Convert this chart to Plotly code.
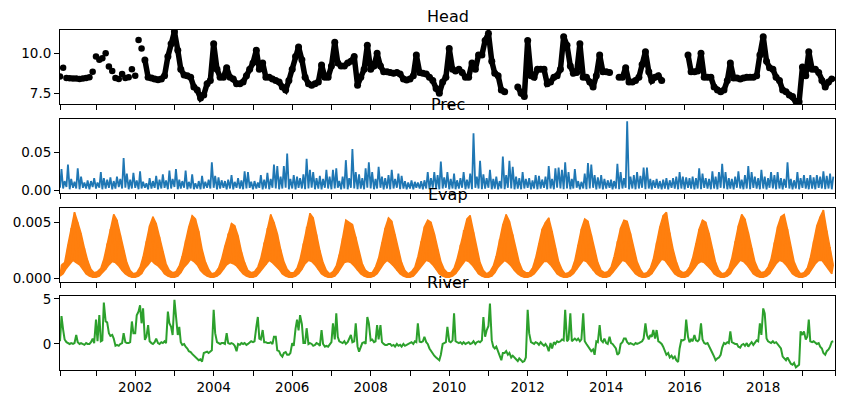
import pandas as pd
import plotly.graph_objects as go

nan = float("nan")

# ---------------- data ----------------
MONTHS = pd.date_range("2000-02-01", "2019-10-01", freq="MS")        # Head
HALF_MONTHS = pd.date_range("2000-02-01", "2019-10-15", freq="SMS")  # Prec, Evap, River

HEAD = [
    8.55, 9.1, 8.45, 8.44, 8.42, 8.43, 8.4, 8.42, 8.45, 8.5, 8.85,          # 2000 Feb-Dec
    9.8, 9.6, 9.7, 10.0, 9.17, 8.9, 8.45, 8.4, 8.7, 8.45, 8.5, 9.0,         # 2001
    8.6, 10.83, 10.3, 9.58, 8.5, 8.45, 8.4, 8.35, 8.4, 8.6, 9.8, 10.6,      # 2002
    11.35, 10.2, 9.0, 8.64, 8.6, 8.5, 7.9, 7.7, 7.2, 7.4, 8.1, 8.3,         # 2003
    10.6, 9.0, 8.5, 8.5, 9.1, 8.5, 8.4, 8.1, 8.1, 8.2, 8.6, 9.0,            # 2004
    9.4, 10.2, 9.0, 9.4, 8.5, 8.5, 8.4, 8.3, 8.2, 7.9, 7.7, 8.3,            # 2005
    9.0, 9.8, 10.4, 9.6, 8.5, 8.1, 8.0, 8.1, 8.2, 9.27, 8.5, 8.5,           # 2006
    9.2, 10.7, 9.4, 9.2, 9.2, 9.4, 9.5, 9.8, 8.0, 8.5, 9.0, 10.5,           # 2007
    9.0, 9.2, 10.0, 9.2, 8.85, 8.85, 8.8, 8.75, 8.8, 8.7, 8.4, 8.33,        # 2008
    8.4, 8.6, 9.9, 8.8, 8.75, 8.7, 8.5, 8.3, 7.8, 7.5, 8.2, 8.5,            # 2009
    10.3, 9.0, 8.9, 9.0, 8.8, 8.5, 8.5, 9.4, 9.0, 9.9, 9.9, 10.8,           # 2010
    11.25, 9.5, 8.75, 8.6, 7.7, 7.6, nan, nan, nan, 7.9, 7.5, 7.3,          # 2011
    10.8, 8.6, 8.5, 9.0, 9.0, 9.0, 8.1, 8.2, 8.5, 8.6, 9.0, 11.04,          # 2012
    10.5, 9.2, 8.75, 8.8, 10.6, 8.5, 8.5, 8.2, 7.9, 8.6, 9.9, 8.85,         # 2013
    8.85, 8.8, nan, nan, 8.5, 8.5, 9.1, 8.2, 8.2, 8.3, 8.5, 9.3,            # 2014
    10.1, 8.85, 8.3, 8.5, 8.6, 8.3, nan, nan, nan, nan, nan, nan,           # 2015
    nan, 9.9, 8.85, 8.85, 8.9, 10.0, 8.5, 8.5, 8.5, 7.9, 7.7, 7.6,          # 2016
    7.7, 8.3, 9.4, 8.45, 8.45, 8.4, 8.45, 8.5, 8.5, 8.5, 8.6, 9.9,          # 2017
    11.04, 9.5, 9.1, 9.0, 8.5, 8.3, 7.7, 7.6, 7.4, 7.3, 7.0, 6.97,         # 2018
    9.15, 8.6, 10.1, 9.0, 9.0, 8.8, 8.3, 7.9, 8.2, 8.4,                    # 2019 Jan-Oct
]
HEAD_DENSE_FROM = "2002-04-01"   # before this the record is sparse (single dots)

RIVER = [
    0.3, 3.1, 1.6, 0.5, 0.2, 0.1, 0.0, 0.1, 0.0, 0.1, 1.0, 0.2,
    0.0, 0.1, 0.0, -0.1, 0.1, 0.0, 0.0, 0.2, 0.6, 0.1,                       # 2000 Feb-Dec
    2.7, 0.3, 3.2, 0.3, 0.4, 4.6, 2.5, 2.4, 1.2, 0.9, 1.0, 0.6,
    -0.2, -0.1, -0.2, 0.0, 0.1, 1.2, 0.2, 0.1, 0.1, 0.2, 2.5, 1.2,          # 2001
    1.2, 3.2, 3.6, 4.3, 2.3, 3.95, 0.45, 0.8, 2.1, 0.3, 0.1, 0.0,
    0.2, 0.6, 0.1, 0.0, 0.2, 0.1, 0.3, 0.1, 3.6, 2.3, 1.9, 1.0,             # 2002
    4.9, 3.0, 1.0, 1.9, 0.2, -0.1, 0.0, -0.3, -0.5, -0.8, -0.9, -1.1,
    -1.3, -1.4, -1.6, -1.8, -1.7, -1.96, -1.0, -0.9, -0.85, -1.0, -0.8, -0.7,  # 2003
    3.8, 1.2, 0.2, 0.1, 0.0, 0.1, 0.1, 0.0, 1.2, 0.1, 0.0, 0.1,
    0.0, -0.2, -0.8, 0.0, -0.1, 0.1, 0.0, 0.1, -0.1, 0.0, 0.2, 0.3,         # 2004
    0.2, 0.3, 1.9, 3.0, 0.6, 0.5, 1.55, 0.2, 0.2, 0.1, 0.1, 0.2,
    0.0, 0.8, 0.8, -0.7, -0.8, -1.2, -1.4, -1.0, -0.9, -1.2, -1.2, -1.0,    # 2005
    0.1, -0.2, 1.7, 2.7, 1.5, 3.2, 2.2, 0.1, 0.1, 1.75, 0.0, 0.1,
    0.0, -0.2, -0.1, 0.1, 0.0, -0.2, 1.55, 0.0, -0.3, -0.2, -0.3, 0.0,      # 2006
    0.2, 2.3, 0.5, 3.4, 0.8, 0.3, 0.2, 0.1, 0.3, 0.0, 0.2, 0.5,
    1.0, 0.2, 0.3, 2.3, -0.3, -0.85, -0.3, 0.1, 0.2, 0.0, 3.0, 2.3,         # 2007
    0.4, 0.5, 0.2, 0.3, 2.1, 0.5, 2.1, 0.2, 0.0, -0.1, -0.1, 0.0,
    0.0, -0.2, -0.1, -0.3, 0.0, -0.2, -0.1, -0.3, 0.0, -0.2, -0.1, 0.0,     # 2008
    0.1, 0.2, 0.0, 0.3, 0.2, 2.3, 0.25, 0.2, 0.3, 0.8, 0.2, 0.0,
    -0.5, -0.8, -1.0, -1.3, -1.5, -1.7, -1.8, -1.2, 0.0, 0.1, 0.2, 1.9,     # 2009
    0.3, 0.2, 0.4, 3.4, 0.3, 0.2, 0.1, 0.2, 0.0, 0.2, 0.0, 0.1,
    0.2, 0.0, 0.1, 0.3, 0.0, 0.2, 0.3, 0.2, 0.4, 3.0, 0.8, 1.5,             # 2010
    2.0, 4.5, 0.4, -0.3, -0.5, -0.3, -0.8, -1.2, -1.8, -1.0, -1.0, -0.8,
    -1.2, -1.0, -1.5, -1.3, -1.6, -1.7, -1.9, -1.6, -1.8, -2.0, -1.9, -1.5, # 2011
    3.8, 1.2, 0.2, 0.1, 0.0, 0.2, 0.1, -0.1, 0.2, 0.0, -0.2, 0.0,
    -0.3, -0.8, 0.1, -0.5, 0.2, 0.0, 0.3, 0.2, 0.3, 0.5, 0.4, 3.8,          # 2012
    0.3, 0.5, 3.4, 0.3, 0.5, 0.6, 0.4, 0.6, 0.3, 0.5, 3.4, 0.3,
    0.0, -0.3, -0.5, -0.8, -0.6, -1.2, 0.3, 0.2, 2.1, 0.4, 0.2, 0.6,        # 2013
    0.1, 0.0, 0.8, 0.1, 0.0, -0.2, -0.5, -1.2, -1.0, 0.0, 0.2, 0.6,
    0.6, 0.2, 0.0, 0.1, 0.0, -0.1, 0.1, 0.0, 0.1, 0.2, 0.3, 0.6,            # 2014
    2.3, 1.0, 0.5, 1.0, 0.8, 1.55, 0.6, 1.55, 0.3, 0.2, 0.0, -0.3,
    -0.7, -1.2, -1.0, -1.5, -1.3, -1.6, -1.4, -1.8, -2.0, -0.5, 0.45, 0.4,  # 2015
    0.5, 2.7, 0.8, 0.2, 0.5, 0.3, 1.0, 0.4, 0.3, 0.5, 2.3, 0.5,
    0.1, 0.0, 0.1, -0.3, -0.6, -1.0, -1.4, -1.8, -1.6, -1.5, -1.2, -0.4,    # 2016
    0.1, 0.0, 0.2, 0.1, 1.4, 0.2, 0.1, 0.0, 0.0, -0.3, -0.4, -0.1,
    0.0, -0.2, 0.1, -0.3, 0.0, 0.2, -0.1, 0.2, 0.4, 0.3, 2.3, 1.0,          # 2017
    3.95, 3.4, 0.6, 0.3, 0.2, 0.1, 0.3, 0.1, 0.2, 0.0, -0.3, -0.5,
    -1.4, -1.6, -1.8, -1.5, -2.0, -2.2, -2.3, -2.1, -2.6, -2.4, -2.3, 1.4,  # 2018
    1.0, 1.4, 0.5, 0.8, 2.7, 0.3, 0.2, 0.3, 0.1, 0.0, 0.1, -0.3,
    -0.5, -1.0, -1.2, -0.8, -0.6, -0.3, 0.25, 0.3,                          # 2019 Jan-Oct
]

PREC = [
    .003, .028, .002, .012, .004, .034, .001, .015, .003, .011, .002, .029,
    .001, .018, .003, .010, .002, .013, .001, .012, .004, .016,             # 2000 Feb-Dec
    .002, .010, .003, .024, .001, .016, .002, .014, .003, .017, .001, .012,
    .002, .018, .004, .015, .002, .043, .003, .022, .001, .014, .002, .023, # 2001
    .003, .013, .001, .025, .002, .011, .003, .009, .001, .016, .002, .012,
    .003, .019, .001, .014, .002, .021, .003, .013, .001, .026, .002, .015, # 2002
    .004, .028, .001, .014, .002, .012, .003, .026, .001, .011, .002, .021,
    .001, .009, .002, .012, .001, .019, .002, .011, .003, .014, .002, .037, # 2003
    .003, .019, .001, .017, .002, .013, .003, .012, .001, .014, .002, .020,
    .001, .011, .003, .016, .002, .013, .001, .025, .002, .024, .003, .011, # 2004
    .001, .012, .002, .010, .003, .020, .001, .014, .002, .023, .001, .015,
    .003, .034, .002, .032, .001, .018, .002, .032, .003, .049, .001, .015, # 2005
    .002, .020, .001, .018, .003, .016, .002, .021, .001, .042, .002, .027,
    .003, .024, .001, .016, .002, .019, .001, .015, .003, .027, .002, .018, # 2006
    .001, .027, .002, .029, .003, .012, .001, .018, .002, .040, .001, .016,
    .003, .055, .002, .024, .001, .021, .002, .016, .001, .029, .003, .037, # 2007
    .002, .024, .001, .015, .002, .031, .003, .018, .001, .016, .002, .020,
    .001, .027, .002, .015, .003, .022, .001, .019, .002, .012, .001, .010, # 2008
    .002, .013, .001, .011, .003, .010, .002, .012, .001, .013, .002, .024,
    .001, .016, .003, .024, .002, .020, .001, .038, .002, .017, .003, .024, # 2009
    .001, .015, .002, .022, .001, .013, .002, .016, .003, .024, .001, .014,
    .002, .022, .001, .076, .003, .018, .002, .039, .001, .021, .002, .016, # 2010
    .003, .027, .001, .015, .002, .018, .001, .012, .002, .045, .001, .020,
    .003, .039, .002, .031, .001, .018, .002, .016, .001, .024, .002, .015, # 2011
    .003, .016, .001, .013, .002, .020, .001, .019, .002, .014, .003, .018,
    .001, .032, .002, .015, .001, .029, .003, .030, .002, .027, .001, .037, # 2012
    .002, .024, .001, .015, .002, .028, .003, .012, .001, .011, .002, .022,
    .001, .036, .002, .034, .003, .020, .001, .017, .002, .020, .001, .015, # 2013
    .002, .013, .003, .014, .001, .012, .002, .035, .001, .024, .002, .016,
    .003, .092, .001, .018, .002, .020, .001, .024, .002, .019, .003, .030, # 2014
    .001, .030, .002, .015, .001, .013, .003, .015, .002, .012, .001, .014,
    .002, .016, .001, .013, .003, .016, .002, .018, .001, .024, .002, .018, # 2015
    .001, .017, .003, .016, .002, .018, .001, .016, .002, .029, .001, .022,
    .003, .016, .002, .015, .001, .025, .002, .018, .001, .024, .003, .035, # 2016
    .002, .024, .001, .016, .002, .015, .001, .018, .003, .025, .002, .014,
    .001, .020, .002, .032, .001, .024, .003, .018, .002, .016, .001, .027, # 2017
    .002, .018, .001, .016, .003, .024, .002, .020, .001, .024, .002, .016,
    .001, .015, .003, .037, .002, .015, .001, .013, .002, .024, .001, .016, # 2018
    .003, .020, .002, .016, .001, .020, .002, .017, .001, .020, .003, .018,
    .002, .025, .001, .019, .002, .022, .001, .018,                         # 2019 Jan-Oct
]

# pairs per month: (daily low around the 1st, daily high around the 15th)
EVAP = [
    .0002, .0012, .0004, .0014, .0009, .0030, .0013, .0045, .0016, .0059, .0014, .0050,
    .0012, .0040, .0008, .0027, .0004, .0016, .0002, .0008, .0001, .0005,                # 2000 Feb-Dec
    .0001, .0006, .0002, .0009, .0005, .0017, .0008, .0031, .0012, .0044, .0015, .0057,
    .0014, .0052, .0011, .0039, .0007, .0025, .0004, .0014, .0002, .0007, .0001, .0004,  # 2001
    .0001, .0005, .0002, .0010, .0004, .0019, .0009, .0033, .0012, .0047, .0016, .0055,
    .0013, .0049, .0011, .0037, .0008, .0024, .0004, .0013, .0002, .0007, .0001, .0005,  # 2002
    .0001, .0006, .0002, .0011, .0005, .0020, .0010, .0034, .0013, .0046, .0017, .0056,
    .0015, .0053, .0012, .0042, .0007, .0026, .0004, .0015, .0002, .0008, .0001, .0004,  # 2003
    .0001, .0005, .0002, .0009, .0004, .0017, .0008, .0029, .0012, .0040, .0014, .0049,
    .0013, .0047, .0011, .0038, .0007, .0024, .0004, .0014, .0002, .0007, .0001, .0005,  # 2004
    .0001, .0006, .0002, .0010, .0005, .0018, .0009, .0032, .0012, .0045, .0016, .0057,
    .0014, .0050, .0011, .0040, .0008, .0026, .0004, .0015, .0002, .0008, .0001, .0005,  # 2005
    .0001, .0005, .0002, .0009, .0004, .0017, .0008, .0031, .0013, .0046, .0016, .0058,
    .0015, .0054, .0012, .0039, .0008, .0025, .0004, .0014, .0002, .0007, .0001, .0004,  # 2006
    .0001, .0006, .0002, .0011, .0005, .0021, .0010, .0036, .0014, .0052, .0015, .0050,
    .0014, .0048, .0011, .0037, .0007, .0024, .0004, .0013, .0002, .0007, .0001, .0005,  # 2007
    .0001, .0005, .0002, .0010, .0004, .0018, .0009, .0032, .0013, .0045, .0016, .0054,
    .0014, .0051, .0011, .0039, .0007, .0025, .0004, .0014, .0002, .0007, .0001, .0004,  # 2008
    .0001, .0006, .0002, .0010, .0005, .0019, .0009, .0033, .0013, .0046, .0016, .0052,
    .0015, .0050, .0012, .0040, .0008, .0026, .0004, .0015, .0002, .0008, .0001, .0005,  # 2009
    .0001, .0005, .0002, .0009, .0004, .0017, .0008, .0030, .0012, .0043, .0016, .0053,
    .0015, .0056, .0012, .0041, .0008, .0026, .0004, .0014, .0002, .0007, .0001, .0004,  # 2010
    .0001, .0006, .0002, .0011, .0005, .0020, .0010, .0035, .0013, .0048, .0016, .0057,
    .0014, .0051, .0011, .0039, .0007, .0025, .0004, .0014, .0002, .0007, .0001, .0005,  # 2011
    .0001, .0005, .0002, .0009, .0004, .0018, .0008, .0031, .0012, .0044, .0015, .0050,
    .0015, .0054, .0012, .0042, .0008, .0027, .0004, .0015, .0002, .0008, .0001, .0004,  # 2012
    .0001, .0005, .0002, .0008, .0004, .0016, .0008, .0030, .0012, .0044, .0016, .0053,
    .0015, .0051, .0011, .0039, .0007, .0025, .0004, .0014, .0002, .0007, .0001, .0005,  # 2013
    .0001, .0006, .0002, .0010, .0005, .0019, .0009, .0033, .0013, .0045, .0016, .0052,
    .0015, .0051, .0011, .0040, .0008, .0026, .0004, .0015, .0002, .0008, .0001, .0004,  # 2014
    .0001, .0005, .0002, .0009, .0004, .0017, .0009, .0032, .0013, .0046, .0017, .0056,
    .0016, .0059, .0012, .0041, .0008, .0026, .0004, .0015, .0002, .0007, .0001, .0005,  # 2015
    .0001, .0006, .0002, .0010, .0005, .0018, .0009, .0031, .0013, .0044, .0015, .0052,
    .0014, .0050, .0011, .0040, .0008, .0026, .0004, .0014, .0002, .0007, .0001, .0004,  # 2016
    .0001, .0005, .0002, .0009, .0004, .0018, .0009, .0033, .0013, .0047, .0016, .0057,
    .0015, .0053, .0012, .0041, .0008, .0027, .0004, .0015, .0002, .0008, .0001, .0005,  # 2017
    .0001, .0006, .0002, .0010, .0004, .0017, .0009, .0032, .0013, .0046, .0016, .0055,
    .0015, .0057, .0012, .0044, .0008, .0028, .0004, .0015, .0002, .0008, .0001, .0004,  # 2018
    .0001, .0005, .0002, .0009, .0004, .0018, .0009, .0033, .0013, .0047, .0016, .0055,
    .0016, .0061, .0012, .0043, .0008, .0028, .0004, .0012,                              # 2019 Jan-Oct
]

TITLES = ["Head", "Prec", "Evap", "River"]
TICK_YEARS = list(range(2001, 2020))
LABEL_YEARS = [2002, 2004, 2006, 2008, 2010, 2012, 2014, 2016, 2018]

HEAD_TICKS = [7.5, 10.0]
PREC_TICKS = [0.0, 0.05]
EVAP_TICKS = [0.0, 0.005]
RIVER_TICKS = [0, 5]

# ---------------- layout geometry ----------------
W, H = 844, 404
ML, MR, MT, MB = 60, 9, 30, 34
plot_h = H - MT - MB
PANELS_PX = [(30, 104), (119, 193), (208, 282), (296, 370)]  # top, bottom in px


def dom(top, bot):
    return [(H - MB - bot) / plot_h, (H - MB - top) / plot_h]


X_RANGE = ["2000-02-01", "2019-10-31"]
x_tickvals = [X_RANGE[0]] + [f"{y}-01-01" for y in TICK_YEARS] + [X_RANGE[1]]
x_ticktext = [""] + [str(y) if y in LABEL_YEARS else "" for y in TICK_YEARS] + [""]

FONT = "DejaVu Sans"
TICK_FONT = dict(family=FONT, size=13.5, color="black")
C_HEAD, C_PREC, C_EVAP, C_RIVER = "black", "#1f77b4", "#ff7f0e", "#2ca02c"

fig = go.Figure()

# Head: sparse single dots first, then a dense record drawn as a thick dotted band
head = pd.Series(HEAD, index=MONTHS)
sparse = head[head.index < HEAD_DENSE_FROM]
dense = head[head.index >= HEAD_DENSE_FROM]
fig.add_trace(go.Scatter(x=sparse.index, y=sparse.values, mode="markers",
                         marker=dict(color=C_HEAD, size=6.5, line=dict(width=0)),
                         xaxis="x", yaxis="y", showlegend=False))
fig.add_trace(go.Scatter(x=dense.index, y=dense.values, mode="lines+markers",
                         line=dict(color=C_HEAD, width=5.5),
                         marker=dict(color=C_HEAD, size=7, line=dict(width=0)),
                         xaxis="x", yaxis="y", showlegend=False))

# Prec
fig.add_trace(go.Scatter(x=HALF_MONTHS, y=PREC, mode="lines",
                         line=dict(color=C_PREC, width=1.8),
                         xaxis="x2", yaxis="y2", showlegend=False))

# Evap: band between the daily lows and highs, plus the raw zig-zag on top
fig.add_trace(go.Scatter(x=HALF_MONTHS[0::2], y=EVAP[0::2], mode="lines",
                         line=dict(color=C_EVAP, width=1.5),
                         xaxis="x3", yaxis="y3", showlegend=False))
fig.add_trace(go.Scatter(x=HALF_MONTHS[1::2], y=EVAP[1::2], mode="lines",
                         line=dict(color=C_EVAP, width=1.5), fill="tonexty",
                         fillcolor=C_EVAP, xaxis="x3", yaxis="y3", showlegend=False))
fig.add_trace(go.Scatter(x=HALF_MONTHS, y=EVAP, mode="lines",
                         line=dict(color=C_EVAP, width=1.5),
                         xaxis="x3", yaxis="y3", showlegend=False))

# River
fig.add_trace(go.Scatter(x=HALF_MONTHS, y=RIVER, mode="lines",
                         line=dict(color=C_RIVER, width=2),
                         xaxis="x4", yaxis="y4", showlegend=False))

y_specs = [
    dict(range=[6.83, 11.46], tickvals=HEAD_TICKS, ticktext=[f"{v:.1f}" for v in HEAD_TICKS]),
    dict(range=[-0.004, 0.0952], tickvals=PREC_TICKS, ticktext=[f"{v:.2f}" for v in PREC_TICKS]),
    dict(range=[-0.00033, 0.00628], tickvals=EVAP_TICKS, ticktext=[f"{v:.3f}" for v in EVAP_TICKS]),
    dict(range=[-2.89, 5.33], tickvals=RIVER_TICKS, ticktext=[str(v) for v in RIVER_TICKS]),
]

axis_common = dict(showline=True, linecolor="black", linewidth=1, mirror=True,
                   ticks="outside", ticklen=5, tickwidth=1, tickcolor="black",
                   showgrid=False, zeroline=False, tickfont=TICK_FONT)

layout = dict(width=W, height=H, margin=dict(l=ML, r=MR, t=MT, b=MB),
              paper_bgcolor="white", plot_bgcolor="white",
              font=dict(family=FONT, color="black"), annotations=[])

for i, ((top, bot), ys, title) in enumerate(zip(PANELS_PX, y_specs, TITLES), start=1):
    sx = "" if i == 1 else str(i)
    d = dom(top, bot)
    xa = dict(axis_common, domain=[0, 1], anchor="y" + sx, range=X_RANGE, type="date",
              tickmode="array", tickvals=x_tickvals, ticktext=x_ticktext,
              showticklabels=(i == 4))
    if i > 1:
        xa["matches"] = "x"
    layout["xaxis" + sx] = xa
    layout["yaxis" + sx] = dict(axis_common, domain=d, anchor="x" + sx,
                                tickmode="array", **ys)
    layout["annotations"].append(dict(
        text=title, x=0.5, xref="paper", y=d[1], yref="paper",
        xanchor="center", yanchor="middle", yshift=14, showarrow=False,
        font=dict(family=FONT, size=16, color="black")))

fig.update_layout(**layout)
fig.write_html("out.html")
